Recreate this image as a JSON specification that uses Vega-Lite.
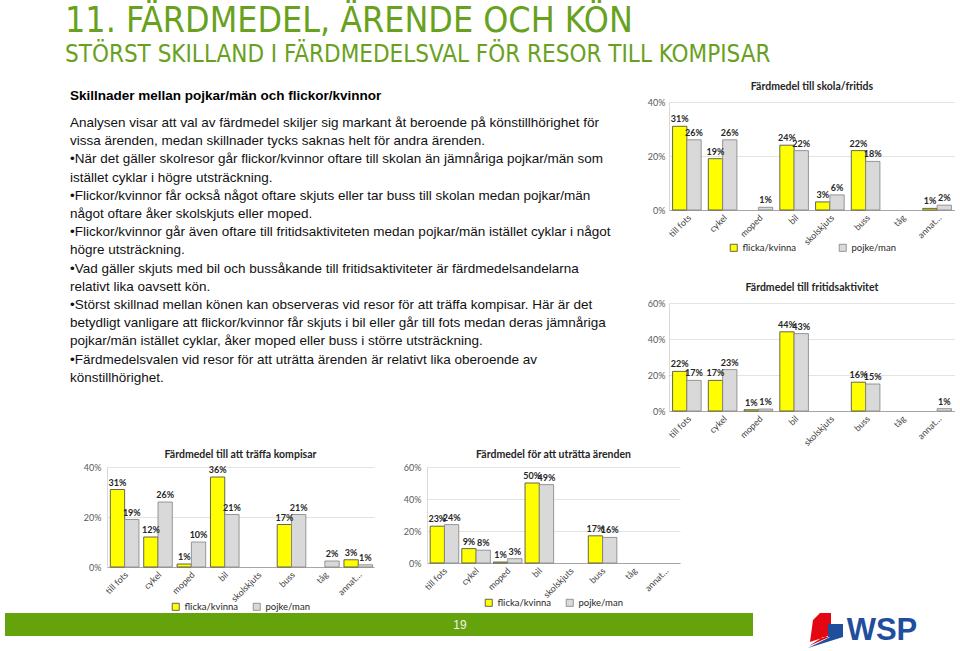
{
  "$schema": "https://vega.github.io/schema/vega-lite/v6.json",
  "background": "white",
  "padding": {"left": 5, "top": 4, "right": 0, "bottom": 0},
  "autosize": {"type": "pad"},
  "config": {
    "view": {"stroke": null},
    "font": "Lato",
    "axis": {"labelFont": "Lato", "labelFontSize": 9, "labelColor": "#595959", "ticks": false, "title": null},
    "legend": {"layout": {"bottom": {"anchor": "middle"}}}
  },
  "datasets": {
    "skola": [
      {"mode": "till fots", "gender": "flicka/kvinna", "share": 0.31},
      {"mode": "till fots", "gender": "pojke/man", "share": 0.26},
      {"mode": "cykel", "gender": "flicka/kvinna", "share": 0.19},
      {"mode": "cykel", "gender": "pojke/man", "share": 0.26},
      {"mode": "moped", "gender": "flicka/kvinna", "share": 0},
      {"mode": "moped", "gender": "pojke/man", "share": 0.01},
      {"mode": "bil", "gender": "flicka/kvinna", "share": 0.24},
      {"mode": "bil", "gender": "pojke/man", "share": 0.22},
      {"mode": "skolskjuts", "gender": "flicka/kvinna", "share": 0.03},
      {"mode": "skolskjuts", "gender": "pojke/man", "share": 0.056},
      {"mode": "buss", "gender": "flicka/kvinna", "share": 0.22},
      {"mode": "buss", "gender": "pojke/man", "share": 0.18},
      {"mode": "tåg", "gender": "flicka/kvinna", "share": 0},
      {"mode": "tåg", "gender": "pojke/man", "share": 0},
      {"mode": "annat…", "gender": "flicka/kvinna", "share": 0.006},
      {"mode": "annat…", "gender": "pojke/man", "share": 0.018}
    ],
    "fritid": [
      {"mode": "till fots", "gender": "flicka/kvinna", "share": 0.22},
      {"mode": "till fots", "gender": "pojke/man", "share": 0.17},
      {"mode": "cykel", "gender": "flicka/kvinna", "share": 0.17},
      {"mode": "cykel", "gender": "pojke/man", "share": 0.23},
      {"mode": "moped", "gender": "flicka/kvinna", "share": 0.007},
      {"mode": "moped", "gender": "pojke/man", "share": 0.011},
      {"mode": "bil", "gender": "flicka/kvinna", "share": 0.44},
      {"mode": "bil", "gender": "pojke/man", "share": 0.43},
      {"mode": "skolskjuts", "gender": "flicka/kvinna", "share": 0},
      {"mode": "skolskjuts", "gender": "pojke/man", "share": 0},
      {"mode": "buss", "gender": "flicka/kvinna", "share": 0.16},
      {"mode": "buss", "gender": "pojke/man", "share": 0.15},
      {"mode": "tåg", "gender": "flicka/kvinna", "share": 0},
      {"mode": "tåg", "gender": "pojke/man", "share": 0},
      {"mode": "annat…", "gender": "flicka/kvinna", "share": 0},
      {"mode": "annat…", "gender": "pojke/man", "share": 0.013}
    ],
    "kompis": [
      {"mode": "till fots", "gender": "flicka/kvinna", "share": 0.31},
      {"mode": "till fots", "gender": "pojke/man", "share": 0.19},
      {"mode": "cykel", "gender": "flicka/kvinna", "share": 0.12},
      {"mode": "cykel", "gender": "pojke/man", "share": 0.26},
      {"mode": "moped", "gender": "flicka/kvinna", "share": 0.012},
      {"mode": "moped", "gender": "pojke/man", "share": 0.1},
      {"mode": "bil", "gender": "flicka/kvinna", "share": 0.36},
      {"mode": "bil", "gender": "pojke/man", "share": 0.21},
      {"mode": "skolskjuts", "gender": "flicka/kvinna", "share": 0},
      {"mode": "skolskjuts", "gender": "pojke/man", "share": 0},
      {"mode": "buss", "gender": "flicka/kvinna", "share": 0.17},
      {"mode": "buss", "gender": "pojke/man", "share": 0.21},
      {"mode": "tåg", "gender": "flicka/kvinna", "share": 0},
      {"mode": "tåg", "gender": "pojke/man", "share": 0.024},
      {"mode": "annat…", "gender": "flicka/kvinna", "share": 0.029},
      {"mode": "annat…", "gender": "pojke/man", "share": 0.009}
    ],
    "arende": [
      {"mode": "till fots", "gender": "flicka/kvinna", "share": 0.23},
      {"mode": "till fots", "gender": "pojke/man", "share": 0.24},
      {"mode": "cykel", "gender": "flicka/kvinna", "share": 0.09},
      {"mode": "cykel", "gender": "pojke/man", "share": 0.08},
      {"mode": "moped", "gender": "flicka/kvinna", "share": 0.006},
      {"mode": "moped", "gender": "pojke/man", "share": 0.027},
      {"mode": "bil", "gender": "flicka/kvinna", "share": 0.5},
      {"mode": "bil", "gender": "pojke/man", "share": 0.49},
      {"mode": "skolskjuts", "gender": "flicka/kvinna", "share": 0},
      {"mode": "skolskjuts", "gender": "pojke/man", "share": 0},
      {"mode": "buss", "gender": "flicka/kvinna", "share": 0.17},
      {"mode": "buss", "gender": "pojke/man", "share": 0.16},
      {"mode": "tåg", "gender": "flicka/kvinna", "share": 0},
      {"mode": "tåg", "gender": "pojke/man", "share": 0},
      {"mode": "annat…", "gender": "flicka/kvinna", "share": 0},
      {"mode": "annat…", "gender": "pojke/man", "share": 0}
    ]
  },
  "title": {
    "text": "11. FÄRDMEDEL, ÄRENDE OCH KÖN",
    "subtitle": "STÖRST SKILLAND I FÄRDMEDELSVAL FÖR RESOR TILL KOMPISAR",
    "anchor": "start", "frame": "group", "dx": 60,
    "font": "DejaVu Sans Condensed, Liberation Sans, sans-serif", "fontSize": 35.5, "fontWeight": "normal", "color": "#67a11d",
    "subtitleFont": "DejaVu Sans Condensed, Liberation Sans, sans-serif", "subtitleFontSize": 24, "subtitleColor": "#67a11d",
    "subtitlePadding": 3, "offset": 15
  },
  "columns": 1,
  "align": "none",
  "spacing": 1,
  "resolve": {"scale": {"color": "independent", "stroke": "independent"}, "legend": {"color": "independent", "stroke": "independent"}},
  "concat": [
    {
      "align": "none",
      "spacing": 20,
      "resolve": {"scale": {"color": "independent", "stroke": "independent"}, "legend": {"color": "independent", "stroke": "independent"}},
      "concat": [
        {
          "width": 620, "height": 1,
          "data": {"values": [{"t": ""}]},
          "mark": {"type": "text"},
          "encoding": {"text": {"field": "t"}},
          "title": {
            "text": "Skillnader mellan pojkar/män och flickor/kvinnor",
            "subtitle": [
              "Analysen visar att val av färdmedel skiljer sig markant åt beroende på könstillhörighet för",
              "vissa ärenden, medan skillnader tycks saknas helt för andra ärenden.",
              "•När det gäller skolresor går flickor/kvinnor oftare till skolan än jämnåriga pojkar/män som",
              "istället cyklar i högre utsträckning.",
              "•Flickor/kvinnor får också något oftare skjuts eller tar buss till skolan medan pojkar/män",
              "något oftare åker skolskjuts eller moped.",
              "•Flickor/kvinnor går även oftare till fritidsaktiviteten medan pojkar/män istället cyklar i något",
              "högre utsträckning.",
              "•Vad gäller skjuts med bil och bussåkande till fritidsaktiviteter är färdmedelsandelarna",
              "relativt lika oavsett kön.",
              "•Störst skillnad mellan könen kan observeras vid resor för att träffa kompisar. Här är det",
              "betydligt vanligare att flickor/kvinnor får skjuts i bil eller går till fots medan deras jämnåriga",
              "pojkar/män istället cyklar, åker moped eller buss i större utsträckning.",
              "•Färdmedelsvalen vid resor för att uträtta ärenden är relativt lika oberoende av",
              "könstillhörighet."
            ],
            "orient": "bottom", "offset": 0,
            "anchor": "start", "frame": "group", "dx": 65, "dy": -19,
            "font": "Liberation Sans", "fontSize": 13.5, "fontWeight": "bold", "color": "#000000",
            "subtitleFont": "Liberation Sans", "subtitleFontSize": 13.5, "subtitleColor": "#111111",
            "subtitleLineHeight": 18.2, "subtitlePadding": 14
          }
        },
        {
          "columns": 1,
          "align": "none",
          "spacing": 29,
          "resolve": {"scale": {"color": "independent", "stroke": "independent"}, "legend": {"color": "independent", "stroke": "independent"}},
          "concat": [
            {
              "title": {"text": "Färdmedel till skola/fritids", "font": "Lato", "fontSize": 10.5, "fontWeight": "bold", "color": "#262626", "offset": 6},
              "width": 286, "height": 108,
              "data": {"name": "skola"},
              "encoding": {
                "x": {"field": "mode", "type": "nominal", "sort": null,
                  "scale": {"domain": ["till fots", "cykel", "moped", "bil", "skolskjuts", "buss", "tåg", "annat…"], "paddingInner": 0.2, "paddingOuter": 0.1},
                  "axis": {"labelAngle": -45, "domainColor": "#a6a6a6", "labelColor": "#404040", "labelPadding": 3}},
                "xOffset": {"field": "gender", "type": "nominal", "scale": {"domain": ["flicka/kvinna", "pojke/man"]}},
                "y": {"field": "share", "type": "quantitative", "scale": {"domain": [0, 0.4], "nice": false},
                  "axis": {"format": ".0%", "values": [0, 0.2, 0.4], "gridColor": "#e3e3e3", "domainColor": "#d9d9d9", "minExtent": 24, "labelPadding": 4}}
              },
              "layer": [
                {"transform": [{"filter": "datum.share > 0"}],
                 "mark": {"type": "bar", "strokeWidth": 0.8},
                 "encoding": {
                   "color": {"field": "gender", "type": "nominal", "scale": {"domain": ["flicka/kvinna", "pojke/man"], "range": ["#ffff00", "#d9d9d9"]},
                     "legend": {"orient": "bottom", "direction": "horizontal", "title": null, "symbolType": "square", "symbolSize": 50, "symbolStrokeColor": "#595959", "symbolStrokeWidth": 0.8, "labelFont": "Lato", "labelFontSize": 9.5, "labelColor": "#262626", "columnPadding": 40, "offset": -4}},
                   "stroke": {"field": "gender", "type": "nominal", "scale": {"domain": ["flicka/kvinna", "pojke/man"], "range": ["#404040", "#808080"]}, "legend": null}
                 }},
                {"transform": [{"filter": "datum.share > 0"}],
                 "mark": {"type": "text", "baseline": "bottom", "dy": -2, "fontSize": 9, "fontWeight": "bold", "color": "#262626"},
                 "encoding": {"text": {"field": "share", "type": "quantitative", "format": ".0%"}}}
              ]
            },
            {
              "title": {"text": "Färdmedel till fritidsaktivitet", "font": "Lato", "fontSize": 10.5, "fontWeight": "bold", "color": "#262626", "offset": 6},
              "width": 286, "height": 108,
              "data": {"name": "fritid"},
              "encoding": {
                "x": {"field": "mode", "type": "nominal", "sort": null,
                  "scale": {"domain": ["till fots", "cykel", "moped", "bil", "skolskjuts", "buss", "tåg", "annat…"], "paddingInner": 0.2, "paddingOuter": 0.1},
                  "axis": {"labelAngle": -45, "domainColor": "#a6a6a6", "labelColor": "#404040", "labelPadding": 3}},
                "xOffset": {"field": "gender", "type": "nominal", "scale": {"domain": ["flicka/kvinna", "pojke/man"]}},
                "y": {"field": "share", "type": "quantitative", "scale": {"domain": [0, 0.6], "nice": false},
                  "axis": {"format": ".0%", "values": [0, 0.2, 0.4, 0.6], "gridColor": "#e3e3e3", "domainColor": "#d9d9d9", "minExtent": 24, "labelPadding": 4}}
              },
              "layer": [
                {"transform": [{"filter": "datum.share > 0"}],
                 "mark": {"type": "bar", "strokeWidth": 0.8},
                 "encoding": {
                   "color": {"field": "gender", "type": "nominal", "scale": {"domain": ["flicka/kvinna", "pojke/man"], "range": ["#ffff00", "#d9d9d9"]}, "legend": null},
                   "stroke": {"field": "gender", "type": "nominal", "scale": {"domain": ["flicka/kvinna", "pojke/man"], "range": ["#404040", "#808080"]}, "legend": null}
                 }},
                {"transform": [{"filter": "datum.share > 0"}],
                 "mark": {"type": "text", "baseline": "bottom", "dy": -2, "fontSize": 9, "fontWeight": "bold", "color": "#262626"},
                 "encoding": {"text": {"field": "share", "type": "quantitative", "format": ".0%"}}}
              ]
            }
          ]
        }
      ]
    },
    {
      "align": "none",
      "spacing": 20,
      "resolve": {"scale": {"color": "independent", "stroke": "independent"}, "legend": {"color": "independent", "stroke": "independent"}},
      "concat": [
        {
          "width": 52, "height": 1,
          "data": {"values": [{"t": ""}]},
          "mark": {"type": "text"},
          "encoding": {"text": {"field": "t"}}
        },
        {
          "title": {"text": "Färdmedel till att träffa kompisar", "font": "Lato", "fontSize": 10.5, "fontWeight": "bold", "color": "#262626", "offset": 3},
          "width": 267, "height": 100,
          "data": {"name": "kompis"},
          "encoding": {
            "x": {"field": "mode", "type": "nominal", "sort": null,
              "scale": {"domain": ["till fots", "cykel", "moped", "bil", "skolskjuts", "buss", "tåg", "annat…"], "paddingInner": 0.2, "paddingOuter": 0.1},
              "axis": {"labelAngle": -45, "domainColor": "#a6a6a6", "labelColor": "#404040", "labelPadding": 3}},
            "xOffset": {"field": "gender", "type": "nominal", "scale": {"domain": ["flicka/kvinna", "pojke/man"]}},
            "y": {"field": "share", "type": "quantitative", "scale": {"domain": [0, 0.4], "nice": false},
              "axis": {"format": ".0%", "values": [0, 0.2, 0.4], "gridColor": "#e3e3e3", "domainColor": "#d9d9d9", "minExtent": 30, "labelPadding": 6}}
          },
          "layer": [
            {"transform": [{"filter": "datum.share > 0"}],
             "mark": {"type": "bar", "strokeWidth": 0.8},
             "encoding": {
               "color": {"field": "gender", "type": "nominal", "scale": {"domain": ["flicka/kvinna", "pojke/man"], "range": ["#ffff00", "#d9d9d9"]},
                 "legend": {"orient": "bottom", "direction": "horizontal", "title": null, "symbolType": "square", "symbolSize": 50, "symbolStrokeColor": "#595959", "symbolStrokeWidth": 0.8, "labelFont": "Lato", "labelFontSize": 9.5, "labelColor": "#262626", "columnPadding": 12, "offset": -2}},
               "stroke": {"field": "gender", "type": "nominal", "scale": {"domain": ["flicka/kvinna", "pojke/man"], "range": ["#404040", "#808080"]}, "legend": null}
             }},
            {"transform": [{"filter": "datum.share > 0"}],
             "mark": {"type": "text", "baseline": "bottom", "dy": -2, "fontSize": 9, "fontWeight": "bold", "color": "#262626"},
             "encoding": {"text": {"field": "share", "type": "quantitative", "format": ".0%"}}}
          ]
        },
        {
          "title": {"text": "Färdmedel för att uträtta ärenden", "font": "Lato", "fontSize": 10.5, "fontWeight": "bold", "color": "#262626", "offset": 3},
          "width": 253, "height": 96,
          "data": {"name": "arende"},
          "encoding": {
            "x": {"field": "mode", "type": "nominal", "sort": null,
              "scale": {"domain": ["till fots", "cykel", "moped", "bil", "skolskjuts", "buss", "tåg", "annat…"], "paddingInner": 0.2, "paddingOuter": 0.1},
              "axis": {"labelAngle": -45, "domainColor": "#a6a6a6", "labelColor": "#404040", "labelPadding": 3}},
            "xOffset": {"field": "gender", "type": "nominal", "scale": {"domain": ["flicka/kvinna", "pojke/man"]}},
            "y": {"field": "share", "type": "quantitative", "scale": {"domain": [0, 0.6], "nice": false},
              "axis": {"format": ".0%", "values": [0, 0.2, 0.4, 0.6], "gridColor": "#e3e3e3", "domainColor": "#d9d9d9", "minExtent": 33, "labelPadding": 6}}
          },
          "layer": [
            {"transform": [{"filter": "datum.share > 0"}],
             "mark": {"type": "bar", "strokeWidth": 0.8},
             "encoding": {
               "color": {"field": "gender", "type": "nominal", "scale": {"domain": ["flicka/kvinna", "pojke/man"], "range": ["#ffff00", "#d9d9d9"]},
                 "legend": {"orient": "bottom", "direction": "horizontal", "title": null, "symbolType": "square", "symbolSize": 50, "symbolStrokeColor": "#595959", "symbolStrokeWidth": 0.8, "labelFont": "Lato", "labelFontSize": 9.5, "labelColor": "#262626", "columnPadding": 12, "offset": -2}},
               "stroke": {"field": "gender", "type": "nominal", "scale": {"domain": ["flicka/kvinna", "pojke/man"], "range": ["#404040", "#808080"]}, "legend": null}
             }},
            {"transform": [{"filter": "datum.share > 0"}],
             "mark": {"type": "text", "baseline": "bottom", "dy": -2, "fontSize": 9, "fontWeight": "bold", "color": "#262626"},
             "encoding": {"text": {"field": "share", "type": "quantitative", "format": ".0%"}}}
          ]
        }
      ]
    },
    {
      "align": "none",
      "spacing": 55,
      "concat": [
        {
          "width": 748, "height": 23,
          "view": {"fill": "#65a30d", "stroke": null},
          "data": {"values": [{"page": "19"}]},
          "mark": {"type": "text", "font": "Liberation Sans", "fontSize": 12, "color": "#f2f2f2", "dx": 81},
          "encoding": {"text": {"field": "page"}}
        },
        {
          "width": 114, "height": 36,
          "data": {"values": [{"brand": "WSP"}]},
          "layer": [
            {"mark": {"type": "point", "shape": "M-5.2,-1.1 L-4.5,-1.8 L-3.4,-1.8 L-3.4,-0.7 L-3.7,-0.7 L-3.7,0.5 L-5.5,1.1 Z M-5.6,1.5 L-3.6,0.6 L-4.2,0.6 Z", "filled": true, "color": "#e30613", "size": 400, "opacity": 1, "strokeWidth": 0}, "encoding": {}},
            {"mark": {"type": "point", "shape": "M-3.7,-0.7 L-2.2,-0.7 L-2.2,0.6 L-3.7,0.6 Z M-5.7,1.7 L-2.2,0.6 L-3.5,0.6 Z", "filled": true, "color": "#1f4e9d", "size": 400, "opacity": 1, "strokeWidth": 0}, "encoding": {}},
            {"mark": {"type": "text", "font": "Liberation Sans", "fontSize": 31, "fontWeight": "bold", "color": "#1f4e9d", "dx": 17}, "encoding": {"text": {"field": "brand"}}}
          ]
        }
      ]
    }
  ]
}
